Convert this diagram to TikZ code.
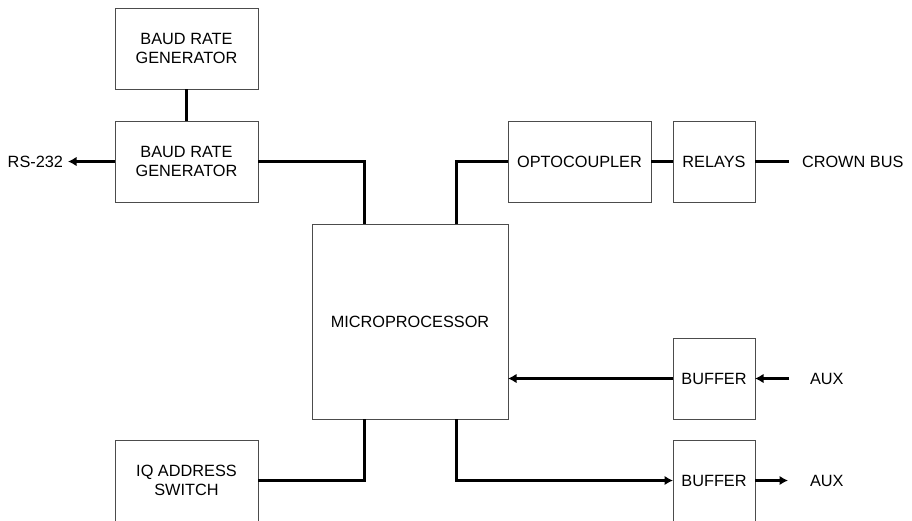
\documentclass[tikz,border=0pt]{standalone}
\usepackage{fontspec}
\setmainfont{Liberation Sans}
\usetikzlibrary{arrows.meta,calc}
\begin{document}
\begin{tikzpicture}[x=1pt,y=-1pt,
  blk/.style={draw=black!70, line width=1pt, fill=white, inner sep=0pt, outer sep=0pt, align=center,
    font=\fontsize{16.3}{18.3}\selectfont, anchor=north west},
  wire/.style={line width=3pt, line cap=butt},
  arr/.style={wire, -{Latex[length=8.5pt,width=9.5pt]}},
  lbl/.style={font=\fontsize{16.3}{18.3}\selectfont, inner sep=0pt, outer sep=0pt}]
\useasboundingbox (0,0) rectangle (912,520);
% blocks
\node[blk, minimum width=143pt, minimum height=81pt] (brg1) at (115,8) {BAUD RATE\\GENERATOR};
\node[blk, minimum width=143pt, minimum height=81pt] (brg2) at (115,121) {BAUD RATE\\GENERATOR};
\node[blk, minimum width=196pt, minimum height=195pt] (micro) at (312,224) {MICROPROCESSOR};
\node[blk, minimum width=143pt, minimum height=81pt] (opto) at (508,121) {OPTOCOUPLER};
\node[blk, minimum width=82pt, minimum height=81pt] (relays) at (673,121) {RELAYS};
\node[blk, minimum width=82pt, minimum height=81pt] (buf1) at (673,338) {BUFFER};
\node[blk, minimum width=82pt, minimum height=81pt] (buf2) at (673,440) {BUFFER};
\node[blk, minimum width=143pt, minimum height=81pt] (iq) at (115,440) {IQ ADDRESS\\SWITCH};
% labels
\node[lbl, anchor=east, inner xsep=5pt] (rs) at (68,161.5) {RS-232};
\node[lbl, anchor=west] (crown) at (802,161.5) {CROWN BUS};
\node[lbl, anchor=west] (aux1) at (810,378.5) {AUX};
\node[lbl, anchor=west] (aux2) at (810,480.5) {AUX};
\coordinate (cbend) at (789,161.5);
\coordinate (a1end) at (789,378.5);
\coordinate (a2end) at (788,480.5);
\coordinate (mtl) at ($(micro.north west)+(52.5,0)$);
\coordinate (mtr) at ($(micro.north west)+(144.5,0)$);
\coordinate (mbl) at ($(micro.south west)+(52.5,0)$);
\coordinate (mbr) at ($(micro.south west)+(144.5,0)$);
% connectors
\draw[wire] (brg1.south) -- (brg2.north);
\draw[arr] (brg2.west) -- (rs.east);
\draw[wire] (brg2.east) -| (mtl);
\draw[wire] (opto.west) -| (mtr);
\draw[wire] (opto.east) -- (relays.west);
\draw[wire] (relays.east) -- (cbend);
\draw[arr] (buf1.west) -- (micro.east |- buf1.west);
\draw[arr] (a1end) -- (buf1.east);
\draw[arr] (mbr) |- (buf2.west);
\draw[arr] (buf2.east) -- (a2end);
\draw[wire] (iq.east) -| (mbl);
\end{tikzpicture}
\end{document}
